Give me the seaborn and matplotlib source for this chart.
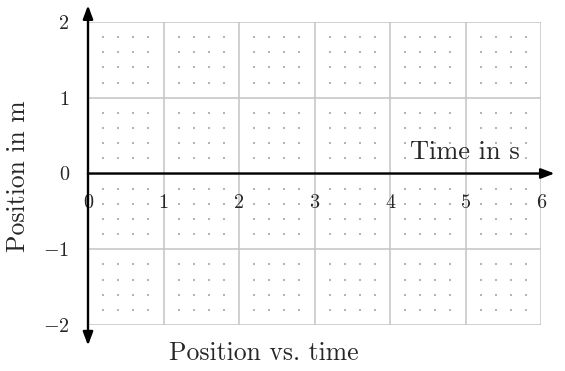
import numpy as np
import matplotlib
matplotlib.use("Agg")
import matplotlib.pyplot as plt
import seaborn as sns

# axis data
x_ticks = [0, 1, 2, 3, 4, 5, 6]
y_ticks = [-2, -1, 0, 1, 2]
x_tick_labels = ["0", "1", "2", "3", "4", "5", "6"]
y_tick_labels = ["$-2$", "$-1$", "0", "1", "2"]
minor_step = 0.2
x_label = "Time in s"
y_label = "Position in m"
title = "Position vs. time"

sns.set_style("white")
plt.rcParams["font.family"] = ["cmr10", "DejaVu Serif"]
plt.rcParams["mathtext.fontset"] = "cm"
plt.rcParams["axes.formatter.use_mathtext"] = True

fig = plt.figure(figsize=(5.65, 3.71), dpi=100)
ax = fig.add_axes([88 / 565, 46 / 371, 453 / 565, 303 / 371])

ax.set_xlim(0, 6)
ax.set_ylim(-2, 2)

# major grid
ax.set_xticks(x_ticks)
ax.set_yticks(y_ticks)
ax.grid(True, which="major", color="#c4c4c4", linewidth=1.1)
ax.set_axisbelow(True)

# dotted minor grid drawn as dots at the minor crossings
mx = np.arange(0, 6 + 1e-9, minor_step)
my = np.arange(-2, 2 + 1e-9, minor_step)
gx, gy = np.meshgrid(mx, my)
gx, gy = gx.ravel(), gy.ravel()
keep = ~(np.isclose(gx, np.round(gx)) | np.isclose(gy, np.round(gy)))
sns.scatterplot(x=gx[keep], y=gy[keep], ax=ax, s=1.4, color="#b4b4b4",
                linewidth=0, marker="s", zorder=0.5)

for s in ["top", "right", "bottom", "left"]:
    ax.spines[s].set_visible(False)
ax.spines["bottom"].set_position(("data", 0))
ax.spines["left"].set_position(("data", 0))

ax.set_xticklabels(x_tick_labels, fontsize=14.5)
ax.set_yticklabels(y_tick_labels, fontsize=14.5)
ax.tick_params(axis="x", which="major", direction="inout", length=14, width=1.0,
               color="#222222", pad=8)
ax.tick_params(axis="y", which="major", direction="inout", length=15, width=1.0,
               color="#444444", pad=6)

# axes arrows
arrow = dict(arrowstyle="-|>,head_length=0.8,head_width=0.3", color="black",
             lw=1.7, shrinkA=0, shrinkB=0)
ax.annotate("", xy=(6.18, 0), xytext=(0, 0), arrowprops=arrow,
            annotation_clip=False)
ax.annotate("", xy=(0, 2.22), xytext=(0, 0), arrowprops=arrow,
            annotation_clip=False)
ax.annotate("", xy=(0, -2.27), xytext=(0, 0), arrowprops=arrow,
            annotation_clip=False)

ax.text(5.72, 0.13, x_label, ha="right", va="bottom", fontsize=19)
fig.text(18 / 565, 195 / 371, y_label, rotation=90, ha="center", va="center",
         fontsize=18.5)
fig.text(264 / 565, 18 / 371, title, ha="center", va="center", fontsize=18.5)

fig.savefig("out.png", dpi=100)
